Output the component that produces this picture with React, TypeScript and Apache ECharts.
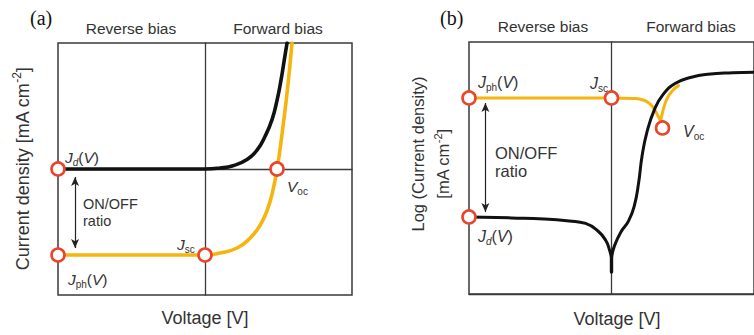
import React, { useEffect, useRef } from "react";
import * as echarts from "echarts";

// ---------- Data ----------
// Panel (a): linear current density vs voltage (x: -1..1, V=0 at centre; y: -1..1, J=0 at centre)
const aDarkCurve: number[][] = [
  [-1, 0], [-0.5, 0], [0, 0], [0.102, 0.008], [0.19, 0.026], [0.286, 0.075], [0.354, 0.15],
  [0.408, 0.258], [0.456, 0.392], [0.49, 0.545], [0.517, 0.705], [0.54, 0.87], [0.558, 1.0],
];
const aPhotoCurve: number[][] = [
  [-1, -0.683], [-0.5, -0.683], [0, -0.683], [0.102, -0.667], [0.218, -0.627], [0.306, -0.55],
  [0.374, -0.448], [0.422, -0.33], [0.46, -0.18], [0.49, 0], [0.512, 0.17], [0.534, 0.37],
  [0.556, 0.58], [0.575, 0.79], [0.592, 1.0],
];
const aMarkers: number[][] = [[-1, 0], [-1, -0.683], [0, -0.683], [0.49, 0]];
const aArrow: number[][] = [[-0.884, -0.063], [-0.884, -0.627]];

// Panel (b): log current density vs voltage (x: -1..1; y: 0..10 arbitrary log units)
const bDarkLeft: number[][] = [
  [-1, 3.06], [-0.703, 3.02], [-0.473, 2.98], [-0.297, 2.9], [-0.182, 2.8], [-0.095, 2.5],
  [-0.04, 2.12], [-0.014, 1.75], [0, 1.45],
];
const bDarkStem: number[][] = [[0, 1.6], [0, 0.87]];
const bDarkRight: number[][] = [
  [0, 1.45], [0.02, 1.9], [0.065, 2.45], [0.12, 2.9], [0.16, 3.5], [0.19, 4.4],
  [0.215, 5.5], [0.25, 6.45], [0.3, 7.3], [0.36, 7.9], [0.446, 8.35], [0.561, 8.6],
  [0.676, 8.72], [0.85, 8.78], [1.0, 8.8],
];
const bPhotoLeft: number[][] = [
  [-1, 7.78], [-0.453, 7.78], [0, 7.78], [0.155, 7.76], [0.223, 7.7], [0.27, 7.54],
  [0.304, 7.3], [0.33, 7.03], [0.345, 6.87],
];
const bPhotoRight: number[][] = [
  [0.345, 6.87], [0.36, 7.25], [0.39, 7.75], [0.43, 8.08], [0.47, 8.27],
];
const bMarkers: number[][] = [[-1, 7.78], [-1, 3.06], [0, 7.78], [0.358, 6.59]];
const bArrow: number[][] = [[-0.885, 7.58], [-0.885, 3.25]];

// Text
const regionLabels = ["Reverse bias", "Forward bias"];
const xAxisTitle = "Voltage [V]";

// ---------- Styles ----------
const FONT = "'Liberation Sans', Arial, Helvetica, sans-serif";
const SERIF = "'Liberation Serif', 'Times New Roman', serif";
const TEXT = "#333333";
const FRAME = "#3a3a3a";
const YELLOW = "#F6B40E";
const DARK = "#111111";
const RED = "#E8452C";

function jRich(size: number) {
  const sub = Math.round(size * 0.64);
  return {
    i: { fontStyle: "italic", fontSize: size, fontFamily: FONT, fill: TEXT, color: TEXT, lineHeight: size * 1.3 },
    n: { fontSize: size, fontFamily: FONT, fill: TEXT, color: TEXT, lineHeight: size * 1.3 },
    s: { fontSize: sub, fontFamily: FONT, fill: TEXT, color: TEXT, lineHeight: sub, verticalAlign: "bottom" },
    si: { fontStyle: "italic", fontSize: sub, fontFamily: FONT, fill: TEXT, color: TEXT, lineHeight: sub, verticalAlign: "bottom" },
    p: { fontSize: sub, fontFamily: FONT, fill: TEXT, color: TEXT, lineHeight: sub, verticalAlign: "top" },
  };
}

function txt(x: number, y: number, text: string, size: number, extra: any = {}, rest: any = {}) {
  return {
    type: "text",
    x,
    y,
    silent: true,
    ...rest,
    style: {
      text,
      fontSize: size,
      fontFamily: FONT,
      fill: TEXT,
      align: "center",
      verticalAlign: "middle",
      ...extra,
    },
  };
}

function rich(x: number, y: number, text: string, size: number, align = "left", rest: any = {}) {
  return {
    type: "text",
    x,
    y,
    silent: true,
    ...rest,
    style: {
      text,
      fontSize: size,
      fontFamily: FONT,
      fill: TEXT,
      align,
      verticalAlign: "middle",
      rich: jRich(size),
    },
  };
}

function lineSeries(data: number[][], idx: number, color: string, width: number, z: number, smooth: any = 0.5) {
  return {
    type: "line",
    xAxisIndex: idx,
    yAxisIndex: idx,
    data,
    smooth,
    symbol: "none",
    silent: true,
    lineStyle: { color, width, cap: "round", join: "round" },
    z,
  };
}

function markerSeries(data: number[][], idx: number, arrow: number[][]) {
  return {
    type: "scatter",
    xAxisIndex: idx,
    yAxisIndex: idx,
    data,
    symbol: "circle",
    symbolSize: 13,
    silent: true,
    itemStyle: { color: "#ffffff", borderColor: RED, borderWidth: 2.6, opacity: 1 },
    z: 10,
    markLine: {
      silent: true,
      symbol: ["arrow", "arrow"],
      symbolSize: [6, 9],
      label: { show: false },
      lineStyle: { color: "#222", width: 1.2, type: "solid" },
      data: [[{ coord: arrow[0] }, { coord: arrow[1] }]],
    },
  };
}

function axisX(idx: number) {
  return {
    type: "value",
    gridIndex: idx,
    min: -1,
    max: 1,
    axisLine: { show: true, onZero: true, lineStyle: { color: FRAME, width: 1.3 } },
    axisTick: { show: false },
    axisLabel: { show: false },
    splitLine: { show: false },
  };
}

function axisY(idx: number, min: number, max: number) {
  return {
    type: "value",
    gridIndex: idx,
    min,
    max,
    axisLine: { show: true, onZero: true, lineStyle: { color: FRAME, width: 1.3 } },
    axisTick: { show: false },
    axisLabel: { show: false },
    splitLine: { show: false },
  };
}

export default function App() {
  const ref = useRef<HTMLDivElement>(null);

  useEffect(() => {
    if (!ref.current) return;
    const chart = echarts.init(ref.current, null, { renderer: "svg" });

    const option: any = {
      animation: false,
      backgroundColor: "#ffffff",
      grid: [
        { left: 58, top: 43, width: 294, height: 252, show: true, borderColor: FRAME, borderWidth: 1.5, backgroundColor: "transparent" },
        { left: 469, top: 42, width: 296, height: 252, show: true, borderColor: FRAME, borderWidth: 1.5, backgroundColor: "transparent" },
      ],
      xAxis: [axisX(0), axisX(1)],
      yAxis: [axisY(0, -1, 1), axisY(1, 0, 10)],
      series: [
        lineSeries(aPhotoCurve, 0, YELLOW, 3.6, 4),
        lineSeries(aDarkCurve, 0, DARK, 3.6, 5),
        markerSeries(aMarkers, 0, aArrow),
        lineSeries(bPhotoLeft, 1, YELLOW, 3, 4),
        lineSeries(bPhotoRight, 1, YELLOW, 3, 4),
        lineSeries(bDarkLeft, 1, DARK, 3, 5),
        lineSeries(bDarkStem, 1, DARK, 3.4, 5, false),
        lineSeries(bDarkRight, 1, DARK, 3, 5),
        markerSeries(bMarkers, 1, bArrow),
      ],
      graphic: [
        // panel letters
        txt(30, 18, "(a)", 20, { fontFamily: SERIF, fill: "#111", align: "left" }),
        txt(440, 18, "(b)", 20, { fontFamily: SERIF, fill: "#111", align: "left" }),
        // region labels
        txt(131, 28, regionLabels[0], 15.5),
        txt(278, 28, regionLabels[1], 15.5),
        txt(543, 26, regionLabels[0], 15.5),
        txt(691, 26, regionLabels[1], 15.5),
        // x axis titles
        txt(205, 318, xAxisTitle, 18),
        txt(617, 319, xAxisTitle, 18),
        // y axis titles
        rich(23, 169, "{n|Current density [mA cm}{p|-2}{n|]}", 18, "center", { rotation: Math.PI / 2 }),
        rich(418, 154, "{n|Log (Current density)}", 16.5, "center", { rotation: Math.PI / 2 }),
        rich(443, 164, "{n|[mA cm}{p|-2}{n|]}", 16.5, "center", { rotation: Math.PI / 2 }),
        // panel (a) annotations
        rich(65, 157, "{i|J}{si|d}{n|(}{i|V}{n|)}", 15.5),
        rich(68, 279, "{i|J}{s|ph}{n|(}{i|V}{n|)}", 15.5),
        rich(177, 244, "{i|J}{s|sc}", 15.5),
        rich(287, 186, "{i|V}{s|oc}", 15.5),
        txt(83, 204, "ON/OFF", 14.5, { align: "left" }),
        txt(83, 221, "ratio", 14.5, { align: "left" }),
        // panel (b) annotations
        rich(478, 82, "{i|J}{s|ph}{n|(}{i|V}{n|)}", 16),
        rich(590, 83, "{i|J}{s|sc}", 16),
        rich(683, 131, "{i|V}{s|oc}", 16),
        rich(478, 236, "{i|J}{si|d}{n|(}{i|V}{n|)}", 16),
        txt(495, 153, "ON/OFF", 16.5, { align: "left" }),
        txt(495, 171, "ratio", 16.5, { align: "left" }),
      ],
    };

    chart.setOption(option);
    return () => chart.dispose();
  }, []);

  return (
    <div
      ref={ref}
      style={{ position: "absolute", left: 0, top: 0, width: 754, height: 335, background: "#fff" }}
    />
  );
}
